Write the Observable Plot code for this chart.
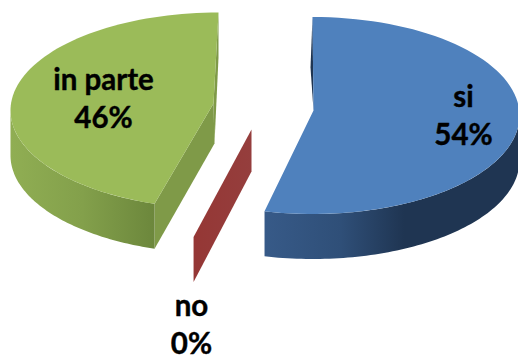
<!DOCTYPE html>
<html lang="it">
<head>
<meta charset="utf-8">
<style>
  html, body { margin: 0; padding: 0; background: #fff; }
  svg { display: block; }
</style>
<script src="https://cdn.jsdelivr.net/npm/d3@7"></script>
<script src="https://cdn.jsdelivr.net/npm/@observablehq/plot@0.6"></script>
</head>
<body>
<script>
// Survey answers, in clockwise order from the top of the pie
const categories = ["si", "no", "in parte"];
const percents = [54, 0, 46];

// Anchor of each two-line label
const labelX = [463, 191, 103];
const labelY = [113, 322, 96];

const TAU = 2 * Math.PI;
const DEG = Math.PI / 180;
const cumulative = d3.cumsum(percents);
const startAngle = i => ((cumulative[i] - percents[i]) / 100) * TAU;
const endAngle = i => (cumulative[i] / 100) * TAU;

// A point on a slice's rim, with the angle measured clockwise from the top
const rim = (e, a, drop = 0) => [e.cx + e.rx * Math.sin(a), e.cy - e.ry * Math.cos(a) + drop];
const arc = (e, a0, a1, drop = 0) =>
  d3.range(81).map(k => rim(e, a0 + (a1 - a0) * k / 80, drop));

// Each exploded slice sits on its own ellipse; "lean" is the perspective
// correction applied to the slice's front corner
const blue = {cx: 312, cy: 115, rx: 207, ry: 98.5, apex: [313, 110], depth: 45, lean: -1 * DEG};
const green = {cx: 218, cy: 110, rx: 208, ry: 98, apex: [213, 103], depth: 45, lean: 3.5 * DEG};
const red = {cx: 251, cy: 129, rx: 233, ry: 111, depth: 42};

const a1 = endAngle(0); // boundary between "si" and the empty "no" slice
const b1 = a1 + blue.lean;
const g0 = startAngle(2) + green.lean;

const shapes = [
  // "no": a zero-width slice, so only its wall is visible
  {fill: "url(#redWall)", pts: [[red.cx, red.cy], rim(red, a1), rim(red, a1, red.depth + 3), [red.cx, red.cy + red.depth]]},

  // "si"
  {fill: "#1f3552", pts: [rim(blue, 0), [310, 67], blue.apex]},
  {fill: "url(#blueWall)", pts: [...arc(blue, TAU / 4, b1), ...arc(blue, b1, TAU / 4, blue.depth)]},
  {fill: "#4f81bd", pts: [blue.apex, ...arc(blue, 0, b1)]},

  // "in parte"
  {fill: "#7f9a48", pts: [rim(green, TAU), [218, 57], [214, 143], green.apex]},
  {fill: "#7f9a48", pts: [green.apex, rim(green, g0), rim(green, g0, green.depth), [214, 143]]},
  {fill: "url(#greenWall)", pts: [...arc(green, 1.5 * Math.PI, g0), ...arc(green, g0, 1.5 * Math.PI, green.depth)]},
  {fill: "#9bbb59", pts: [green.apex, ...arc(green, g0, TAU)]}
];

// Horizontal shading for the curved and flat walls
function gradients() {
  const defs = d3.create("svg:defs");
  const add = (id, x1, x2, stops) => {
    const g = defs.append("linearGradient").attr("id", id)
      .attr("gradientUnits", "userSpaceOnUse")
      .attr("x1", x1).attr("x2", x2).attr("y1", 0).attr("y2", 0);
    for (const [o, c] of stops) g.append("stop").attr("offset", o).attr("stop-color", c);
  };
  add("blueWall", 264, 518, [[0, "#375a88"], [0.3, "#2f4f78"], [0.55, "#1f3552"], [1, "#1f3552"]]);
  add("greenWall", 10, 154, [[0, "#90ae53"], [0.5, "#83a04b"], [1, "#6c873c"]]);
  add("redWall", 193, 251, [[0, "#953735"], [1, "#953e3d"]]);
  return defs.node();
}

const labels = categories.map((c, i) => ({text: `${c}\n${percents[i]}%`, x: labelX[i], y: labelY[i]}));

const chart = Plot.plot({
  width: 518,
  height: 360,
  margin: 0,
  style: {background: "#fff"},
  x: {domain: [0, 518], axis: null},
  y: {domain: [360, 0], axis: null},
  marks: [
    gradients,
    ...shapes.map(s => Plot.line(s.pts, {
      x: d => d[0],
      y: d => d[1],
      curve: "linear-closed",
      fill: s.fill,
      stroke: "none"
    })),
    Plot.text(labels, {
      x: "x",
      y: "y",
      text: "text",
      fontFamily: "Lato",
      fontWeight: "bold",
      fontSize: 29.5,
      lineHeight: 1.31,
      fill: "#000",
      stroke: "#000",
      strokeWidth: 0.4
    })
  ]
});
document.body.appendChild(chart);
</script>
</body>
</html>
